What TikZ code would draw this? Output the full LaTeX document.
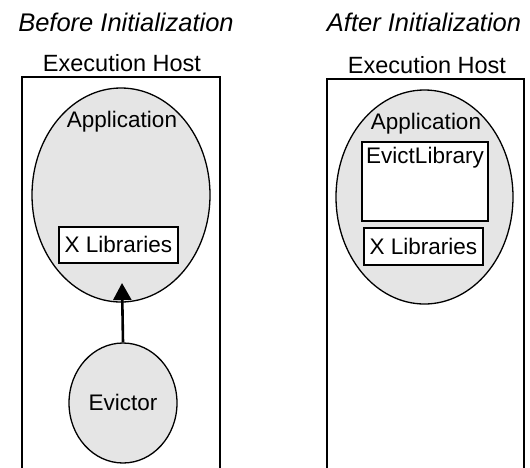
\documentclass[tikz,border=0pt]{standalone}
\usepackage{fontspec}
\setmainfont{Liberation Sans}
\usetikzlibrary{shapes.geometric,arrows.meta}
\definecolor{appgray}{HTML}{E5E5E5}
\tikzset{
  body/.style={font=\fontsize{22.5}{26}\selectfont},
  hostbox/.style={draw, line width=1.3pt, inner sep=0pt},
  blob/.style={ellipse, draw, line width=1.3pt, fill=appgray, inner sep=0pt},
  libbox/.style={draw, line width=1.3pt, fill=white, inner sep=0pt},
  txt/.style={inner sep=0pt, anchor=base, body},
}
\begin{document}
\begin{tikzpicture}[x=1pt,y=-1pt]
\clip (0,0) rectangle (530,467);
% titles
\node[inner sep=0pt, anchor=base, font=\fontsize{25.5}{30}\selectfont\itshape] (t1) at (126,31) {Before Initialization};
\node[inner sep=0pt, anchor=base, font=\fontsize{25.5}{30}\selectfont\itshape] (t2) at (424,31) {After Initialization};
% hosts
\node[inner sep=0pt, anchor=base, font=\fontsize{23.5}{28}\selectfont] (h1l) at (122,71) {Execution Host};
\node[inner sep=0pt, anchor=base, font=\fontsize{23.5}{28}\selectfont] (h2l) at (427,73) {Execution Host};
\node[hostbox, minimum width=198pt, minimum height=423pt] (host1) at (121,288.5) {};
\node[hostbox, minimum width=197pt, minimum height=421pt] (host2) at (425.5,289.5) {};
% left application
\node[blob, minimum width=178pt, minimum height=214pt] (app1) at (121,195) {};
\node[txt] (app1l) at (122,127) {Application};
\node[libbox, minimum width=119pt, minimum height=36pt] (xlib1) at (118.5,245) {};
\node[txt] (xlib1l) at (118.5,252) {X Libraries};
% evictor
\node[blob, minimum width=108pt, minimum height=120pt] (evictor) at (123,403) {};
\node[txt] (evl) at (123,410) {Evictor};
\coordinate (tip) at (122,283);
\draw[line width=2.6pt, -{Triangle[length=17pt,width=18pt]}] (evictor.north) -- (tip);
% right application
\node[blob, minimum width=177pt, minimum height=214pt] (app2) at (424.5,197) {};
\node[txt] (app2l) at (426,129) {Application};
\node[libbox, minimum width=126pt, minimum height=79pt] (evlib) at (425,181.5) {};
\node[txt] (evlibl) at (425,163) {EvictLibrary};
\node[libbox, minimum width=119pt, minimum height=37pt] (xlib2) at (423.5,246.5) {};
\node[txt] (xlib2l) at (423.5,254) {X Libraries};
\end{tikzpicture}
\end{document}
